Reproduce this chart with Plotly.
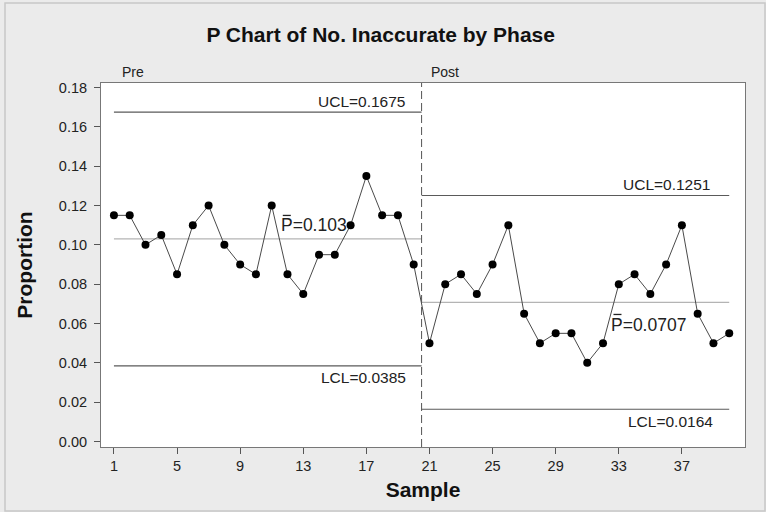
import plotly.graph_objects as go

title = "P Chart of No. Inaccurate by Phase"
phases = ["Pre", "Post"]
pre_samples = list(range(1, 21))
post_samples = list(range(21, 41))
pre_values = [0.115, 0.115, 0.100, 0.105, 0.085, 0.110, 0.120, 0.100, 0.090, 0.085,
              0.120, 0.085, 0.075, 0.095, 0.095, 0.110, 0.135, 0.115, 0.115, 0.090]
post_values = [0.050, 0.080, 0.085, 0.075, 0.090, 0.110, 0.065, 0.050, 0.055, 0.055,
               0.040, 0.050, 0.080, 0.085, 0.075, 0.090, 0.110, 0.065, 0.050, 0.055]
pre_limits = {"UCL": 0.1675, "P": 0.103, "LCL": 0.0385}
post_limits = {"UCL": 0.1251, "P": 0.0707, "LCL": 0.0164}
phase_break = 20.5
x_ticks = [1, 5, 9, 13, 17, 21, 25, 29, 33, 37]
y_ticks = [0.00, 0.02, 0.04, 0.06, 0.08, 0.10, 0.12, 0.14, 0.16, 0.18]

FONT = "Liberation Sans, Arial, Helvetica, sans-serif"
fig = go.Figure()

# control limit lines
segments = [(pre_samples[0], phase_break, pre_limits), (phase_break, post_samples[-1], post_limits)]
for x0, x1, lim in segments:
    for key in ["UCL", "LCL"]:
        fig.add_trace(go.Scatter(x=[x0, x1], y=[lim[key], lim[key]], mode="lines",
                                 line=dict(color="#5a5a5a", width=1.2), hoverinfo="skip", showlegend=False))
    fig.add_trace(go.Scatter(x=[x0, x1], y=[lim["P"], lim["P"]], mode="lines",
                             line=dict(color="#b4b4b4", width=1.2), hoverinfo="skip", showlegend=False))

# data
fig.add_trace(go.Scatter(x=pre_samples + post_samples, y=pre_values + post_values,
                         mode="lines+markers",
                         line=dict(color="#4a4a4a", width=1),
                         marker=dict(color="black", size=8),
                         showlegend=False))

# phase break
fig.add_shape(type="line", x0=phase_break, x1=phase_break, y0=0, y1=1, xref="x", yref="paper",
              line=dict(color="#555555", width=1, dash="8px,4px"))

# outer frame
fig.add_shape(type="rect", xref="paper", yref="paper",
              x0=(5 - 101) / 644, x1=(765 - 101) / 644, y0=(447 - 511) / 364, y1=(447 - 3) / 364,
              line=dict(color="#c8c8c8", width=1.5), layer="below")

ann = []
def lab(x, y, text, xa, ya, size=15.5, yshift=0):
    ann.append(dict(x=x, y=y, text=text, xref="x", yref="y", xanchor=xa, yanchor=ya, yshift=yshift,
                    showarrow=False, font=dict(family=FONT, size=size, color="#222")))

def pbar(x, y, off):
    fig.add_shape(type="line", xref="x", yref="y", xsizemode="pixel", ysizemode="pixel",
                  xanchor=x, yanchor=y, x0=4.0, x1=12.0, y0=off, y1=off,
                  line=dict(color="#222", width=1.3))

lab(19.59, pre_limits["UCL"], "UCL=0.1675", "right", "bottom")
lab(19.65, pre_limits["LCL"], "LCL=0.0385", "right", "top", yshift=-1.5)
lab(11.45, pre_limits["P"], "P=0.103", "left", "bottom", 17.5, yshift=1.5)
pbar(11.45, pre_limits["P"], 23.5)
lab(38.9, post_limits["UCL"], "UCL=0.1251", "right", "bottom")
lab(39.09, post_limits["LCL"], "LCL=0.0164", "right", "top", yshift=-2)
lab(32.41, post_limits["P"], "P=0.0707", "left", "top", 17.5, yshift=-11)
pbar(32.41, post_limits["P"], -12)

for x, t in [(1.4, phases[0]), (21.0, phases[1])]:
    ann.append(dict(x=x, y=1.0, text=t, xref="x", yref="paper", xanchor="left", yanchor="bottom",
                    yshift=1, showarrow=False, font=dict(family=FONT, size=14, color="#222")))

fig.update_layout(
    width=766, height=512,
    margin=dict(l=101, r=21, t=83, b=65),
    paper_bgcolor="#ebebeb", plot_bgcolor="white",
    title=dict(text="<b>" + title + "</b>", x=0.497, xanchor="center", y=0.932, yanchor="middle",
               font=dict(family=FONT, size=21, color="#111")),
    annotations=ann,
    xaxis=dict(range=[0.18, 41.0], tickvals=x_ticks, ticks="outside", ticklen=6, tickcolor="#555",
               showgrid=False, zeroline=False, showline=True, linecolor="#777", mirror=True,
               tickfont=dict(family=FONT, size=14.5, color="#222"),
               title=dict(text="<b>Sample</b>", font=dict(family=FONT, size=21, color="#111"), standoff=8)),
    yaxis=dict(range=[-0.0028, 0.1823], tickvals=y_ticks, tickformat=".2f", ticks="outside", ticklen=6,
               ticklabelstandoff=4,
               tickcolor="#555", showgrid=False, zeroline=False, showline=True, linecolor="#777", mirror=True,
               tickfont=dict(family=FONT, size=14.5, color="#222"),
               title=dict(text="<b>Proportion</b>", font=dict(family=FONT, size=21, color="#111"), standoff=20)),
)

fig.write_html("out.html")
